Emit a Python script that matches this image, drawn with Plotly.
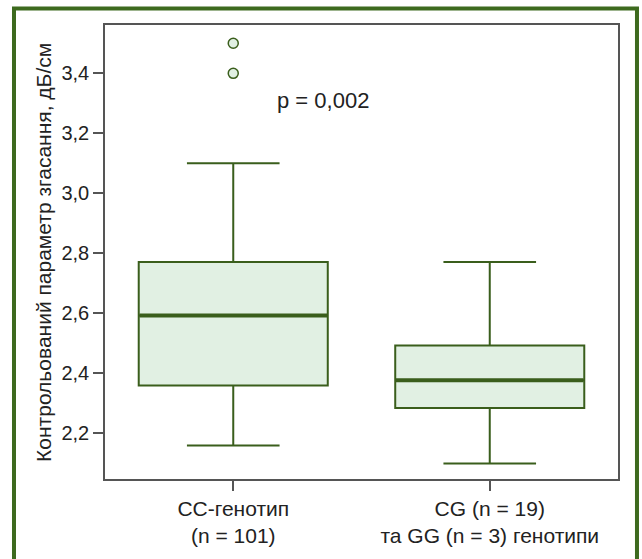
import plotly.graph_objects as go

categories = ["CC-генотип<br>(n = 101)", "CG (n = 19)<br>та GG (n = 3) генотипи"]
lower_whisker = [2.16, 2.10]
q1 = [2.36, 2.285]
median = [2.593, 2.377]
q3 = [2.771, 2.493]
upper_whisker = [3.10, 2.771]
outlier_x = [categories[0], categories[0]]
outlier_y = [3.5, 3.4]
y_ticks = [2.2, 2.4, 2.6, 2.8, 3.0, 3.2, 3.4]
p_text = "p = 0,002"
y_title = "Контрольований параметр згасання, дБ/см"

DARK = "#3a5e1c"
FILL = "#e1f0e3"
FONT = "Liberation Sans, Arial, sans-serif"
TXT = "#222222"
BORDER = "#3d6a1e"

fig = go.Figure()
fig.add_trace(go.Box(
    x=categories, q1=q1, median=median, q3=q3,
    lowerfence=lower_whisker, upperfence=upper_whisker,
    fillcolor=FILL, line=dict(color=DARK, width=2),
    width=0.737, whiskerwidth=0.49, boxpoints=False,
    showlegend=False, hoverinfo="skip",
))
# thicker median line (line-ew symbol length = 1.4 * size)
fig.add_trace(go.Scatter(
    x=categories, y=median, mode="markers",
    marker=dict(symbol="line-ew", size=134, line=dict(color=DARK, width=4)),
    showlegend=False, hoverinfo="skip",
))
fig.add_trace(go.Scatter(
    x=outlier_x, y=outlier_y, mode="markers",
    marker=dict(symbol="circle", size=10, color=FILL, line=dict(color=DARK, width=1.5)),
    showlegend=False, hoverinfo="skip",
))

# open-bottom frame (left, top, right edges only)
frame = dict(type="path", xref="paper", yref="paper",
             path="M -0.1774,-0.5 L -0.1774,1.0363 L 1.0370,1.0363 L 1.0370,-0.5",
             line=dict(color=BORDER, width=4), layer="above")

fig.update_layout(
    width=642, height=559,
    margin=dict(l=105, r=24, t=25, b=66),
    paper_bgcolor="white", plot_bgcolor="white",
    font=dict(family=FONT, size=20, color=TXT),
    separators=",.",
    xaxis=dict(
        type="category", range=[-0.5, 1.5],
        showline=True, linecolor="#555555", linewidth=1.5, mirror=True,
        ticks="outside", ticklen=10, tickcolor="#555555", tickwidth=1.5,
        showgrid=False, zeroline=False,
        tickfont=dict(family=FONT, size=21, color=TXT),
    ),
    yaxis=dict(
        range=[2.048, 3.561], tickvals=y_ticks, tickformat=".1f",
        showline=True, linecolor="#555555", linewidth=1.5, mirror=True,
        ticks="outside", ticklen=10, tickcolor="#555555", tickwidth=1.5,
        showgrid=False, zeroline=False,
        tickfont=dict(family=FONT, size=20, color=TXT),
    ),
    annotations=[
        dict(text=p_text, xref="paper", yref="paper", x=0.425, y=0.833,
             showarrow=False, font=dict(family=FONT, size=22, color=TXT),
             xanchor="center", yanchor="middle"),
        dict(text=y_title, xref="paper", yref="paper", x=-0.121, y=0.5,
             textangle=-90, showarrow=False,
             font=dict(family=FONT, size=21, color=TXT),
             xanchor="center", yanchor="middle"),
    ],
    shapes=[frame],
)

fig.write_html(
    "out.html",
    config={"displayModeBar": False},
    post_script="document.body.style.margin='0';document.body.style.overflow='hidden';",
)
